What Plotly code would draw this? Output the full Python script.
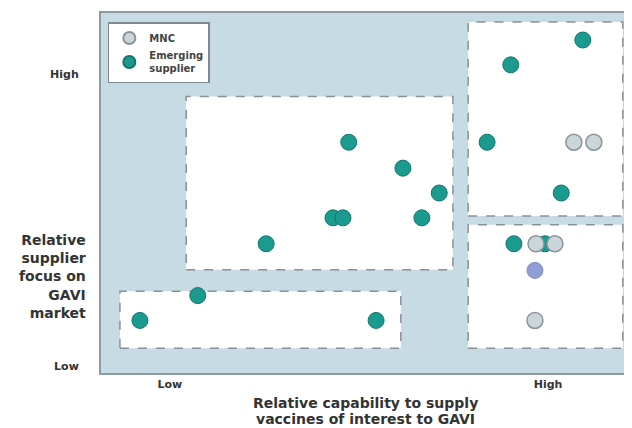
import plotly.graph_objects as go

# Data (relative scale 0-100 on both axes)
emerging_x = [7.4, 18.4, 52.3, 31.4, 44.1, 46.0, 47.1, 57.4, 64.3, 61.0, 73.4, 77.9, 91.6, 87.5, 78.5, 84.4]
emerging_y = [14.6, 21.5, 14.6, 35.9, 43.1, 43.1, 64.1, 56.9, 50.0, 43.1, 64.1, 85.6, 92.5, 50.0, 35.9, 35.9]
mnc_x = [82.7, 86.3, 89.9, 93.7, 82.5]
mnc_y = [35.9, 35.9, 64.1, 64.1, 14.6]
other_x = [82.5]
other_y = [28.5]

# Segment boxes: (x0, x1, y0, y1)
box_x0 = [16.2, 3.6, 69.8, 69.8]
box_x1 = [66.9, 57.0, 99.2, 99.2]
box_y0 = [28.7, 6.9, 43.6, 6.9]
box_y1 = [76.8, 22.7, 97.5, 41.2]

x_tick_vals = [13.1, 85.0]
x_tick_text = ["Low", "High"]
y_tick_vals = [1.9, 83.1]
y_tick_text = ["Low", "High"]

x_title_lines = ["Relative capability to supply", "vaccines of interest to GAVI"]
y_title_lines = ["Relative", "supplier", "focus on", "GAVI", "market"]

TEAL = "#1b9b8f"
TEAL_LINE = "#12756c"
GRAY = "#cbd6da"
GRAY_LINE = "#8b9498"
PURPLE = "#8f9ed4"
PURPLE_LINE = "#7d8cc0"
TXT = "#333333"
FONT = "DejaVu Sans, Verdana, sans-serif"

fig = go.Figure()

fig.add_trace(go.Scatter(
    x=emerging_x, y=emerging_y, mode="markers", name="<b>Emerging<br>supplier</b>",
    marker=dict(size=16, color=TEAL, line=dict(color=TEAL_LINE, width=1)),
))
fig.add_trace(go.Scatter(
    x=mnc_x, y=mnc_y, mode="markers", name="<b>MNC</b>",
    marker=dict(size=16, color=GRAY, line=dict(color=GRAY_LINE, width=1.5)),
))
fig.add_trace(go.Scatter(
    x=other_x, y=other_y, mode="markers", showlegend=False,
    marker=dict(size=16, color=PURPLE, line=dict(color=PURPLE_LINE, width=1)),
))

for x0, x1, y0, y1 in zip(box_x0, box_x1, box_y0, box_y1):
    fig.add_shape(type="rect", xref="x", yref="y", x0=x0, x1=x1, y0=y0, y1=y1,
                  fillcolor="white", line=dict(color="#8a9194", width=1.5, dash="dash"),
                  layer="below")

fig.update_layout(
    width=624, height=420,
    margin=dict(l=93, r=5, t=3, b=55),
    paper_bgcolor="white",
    plot_bgcolor="#c6dbe4",
    showlegend=True,
    legend=dict(
        x=0.013, y=0.975, xanchor="left", yanchor="top",
        bgcolor="white", bordercolor="#7f888c", borderwidth=1.5,
        font=dict(family=FONT, size=10, color="#444444"),
        traceorder="reversed", itemsizing="constant",
        tracegroupgap=2, itemwidth=30,
        entrywidth=80, entrywidthmode="pixels",
    ),
    xaxis=dict(
        range=[0, 100], showgrid=False, zeroline=False,
        tickvals=x_tick_vals, ticktext=["<b>%s</b>" % t for t in x_tick_text],
        tickfont=dict(family=FONT, size=11, color=TXT),
        ticks="", showline=True, mirror=True, linecolor="#8d9aa0", linewidth=2,
    ),
    yaxis=dict(
        range=[0, 100], showgrid=False, zeroline=False,
        tickvals=y_tick_vals, ticktext=["<b>%s</b>" % t for t in y_tick_text],
        tickfont=dict(family=FONT, size=11, color=TXT),
        ticks="", ticklabelstandoff=18,
        showline=True, mirror=True, linecolor="#8d9aa0", linewidth=2,
    ),
)

fig.add_annotation(
    xref="paper", yref="paper", x=-0.025, y=0.268, xanchor="right", yanchor="middle",
    text="<b>" + "<br>".join(y_title_lines) + "</b>", align="right",
    showarrow=False, font=dict(family=FONT, size=14, color=TXT),
)
for i, line in enumerate(x_title_lines):
    fig.add_annotation(
        xref="paper", yref="paper", x=0.502, y=-0.083 - i * 0.046, xanchor="center", yanchor="middle",
        text="<b>%s</b>" % line, align="center",
        showarrow=False, font=dict(family=FONT, size=14, color=TXT),
    )

fig.write_html("out.html")
